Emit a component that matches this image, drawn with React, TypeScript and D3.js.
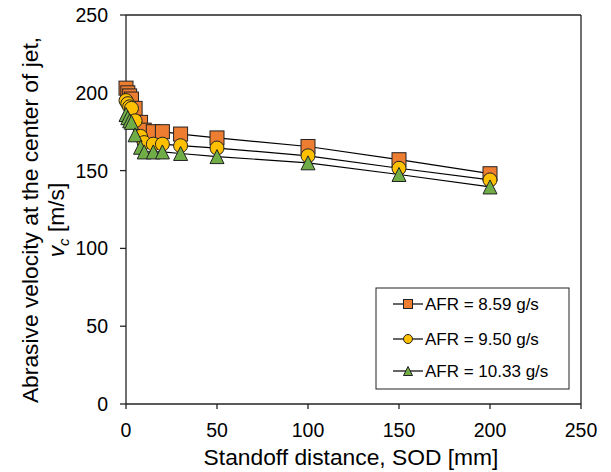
import React from "react";
import * as d3 from "d3";

const sod = [0, 1, 2, 3, 5, 8, 10, 15, 20, 30, 50, 100, 150, 200];
const afr859 = [203, 200, 198, 196, 190, 181, 176, 175, 175, 173.5, 171, 165.5, 157, 148];
const afr950 = [195, 193, 191, 190, 182, 172, 168, 167, 167, 166, 164.5, 159.5, 151.5, 144];
const afr1033 = [186, 184, 182, 181, 173, 165, 162, 162, 162, 161, 159, 155, 147.5, 139.5];
const seriesNames = ["AFR = 8.59 g/s", "AFR = 9.50 g/s", "AFR = 10.33 g/s"];
const xTicks = [0, 50, 100, 150, 200, 250];
const yTicks = [0, 50, 100, 150, 200, 250];

const W = 611;
const H = 472;
const M = { left: 126, right: 581, top: 15, bottom: 404 };
const FONT = "'Liberation Sans', Arial, sans-serif";

const x = d3.scaleLinear().domain([0, 250]).range([M.left, M.right]);
const y = d3.scaleLinear().domain([0, 250]).range([M.bottom, M.top]);

const series = [
  { name: seriesNames[0], values: afr859, shape: "square", fill: "#ED7D31" },
  { name: seriesNames[1], values: afr950, shape: "circle", fill: "#FFC000" },
  { name: seriesNames[2], values: afr1033, shape: "triangle", fill: "#70AD47" },
];

function Marker({ shape, cx, cy, size, fill }: { shape: string; cx: number; cy: number; size: number; fill: string }) {
  const stroke = "#222";
  if (shape === "square") {
    return <rect x={cx - size / 2} y={cy - size / 2} width={size} height={size} fill={fill} stroke={stroke} strokeWidth={1} />;
  }
  if (shape === "circle") {
    return <circle cx={cx} cy={cy} r={size / 2} fill={fill} stroke={stroke} strokeWidth={1} />;
  }
  const h = size;
  const p = `${cx},${cy - h / 2} ${cx + size / 2},${cy + h / 2} ${cx - size / 2},${cy + h / 2}`;
  return <polygon points={p} fill={fill} stroke={stroke} strokeWidth={1} />;
}

export default function App() {
  const line = d3
    .line<number>()
    .x((_, i) => x(sod[i]))
    .y((d) => y(d));

  const legendX = 376;
  const legendY = 288;
  const legendRows = [304, 339, 371];

  return (
    <svg width={W} height={H} style={{ position: "absolute", left: 0, top: 0 }} fontFamily={FONT}>
      <rect x={0} y={0} width={W} height={H} fill="#fff" />
      {/* frame */}
      <line x1={M.left} x2={M.right} y1={M.top} y2={M.top} stroke="#222" strokeWidth={1.3} />
      <line x1={M.right} x2={M.right} y1={M.top} y2={M.bottom} stroke="#222" strokeWidth={1.3} />
      {/* axes */}
      <line x1={M.left} x2={M.right} y1={M.bottom} y2={M.bottom} stroke="#222" strokeWidth={1.3} />
      <line x1={M.left} x2={M.left} y1={M.top} y2={M.bottom} stroke="#222" strokeWidth={1.3} />
      {xTicks.map((t) => (
        <g key={"x" + t}>
          <line x1={x(t)} x2={x(t)} y1={M.bottom} y2={M.bottom + 5} stroke="#222" strokeWidth={1.3} />
          <text x={x(t)} y={437} fontSize={19.5} textAnchor="middle" fill="#000">
            {t}
          </text>
        </g>
      ))}
      {yTicks.map((t) => (
        <g key={"y" + t}>
          <line x1={M.left - 6} x2={M.left} y1={y(t)} y2={y(t)} stroke="#222" strokeWidth={1.3} />
          <text x={108} y={y(t) + 7} fontSize={19.5} textAnchor="end" fill="#000">
            {t}
          </text>
        </g>
      ))}
      {/* axis titles */}
      <text x={351} y={465} fontSize={22.8} textAnchor="middle" fill="#000">
        Standoff distance, SOD [mm]
      </text>
      <g transform={`translate(38, 220) rotate(-90)`}>
        <text x={0} y={0} fontSize={22.8} textAnchor="middle" fill="#000">
          Abrasive velocity at the center of jet,
        </text>
        <text x={0} y={26} fontSize={22.8} textAnchor="middle" fill="#000">
          <tspan fontStyle="italic">v</tspan>
          <tspan fontStyle="italic" fontSize={15} dy={5}>c</tspan>
          <tspan dy={-5}> [m/s]</tspan>
        </text>
      </g>
      {/* lines */}
      {series.map((s) => (
        <path key={"l" + s.name} d={line(s.values) || ""} fill="none" stroke="#000" strokeWidth={1.2} />
      ))}
      {/* markers */}
      {series.map((s) => (
        <g key={"m" + s.name}>
          {s.values.map((v, i) => (
            <Marker key={i} shape={s.shape} cx={x(sod[i])} cy={y(v)} size={14} fill={s.fill} />
          ))}
        </g>
      ))}
      {/* legend */}
      <rect x={legendX} y={legendY} width={193} height={101} fill="#fff" stroke="#222" strokeWidth={1} />
      {series.map((s, i) => (
        <g key={"lg" + s.name}>
          <line x1={393} x2={423} y1={legendRows[i]} y2={legendRows[i]} stroke="#000" strokeWidth={1.2} />
          <Marker shape={s.shape} cx={408} cy={legendRows[i]} size={9} fill={s.fill} />
          <text x={425} y={legendRows[i] + 6} fontSize={17} fill="#000">
            {s.name}
          </text>
        </g>
      ))}
    </svg>
  );
}
